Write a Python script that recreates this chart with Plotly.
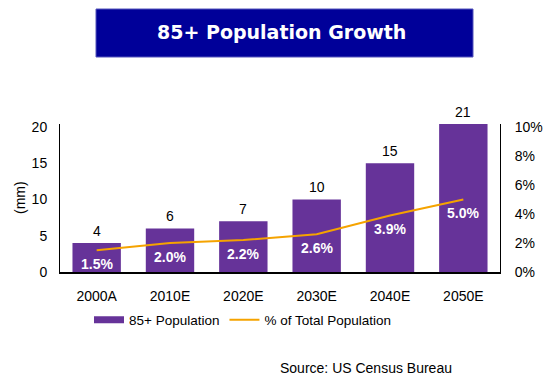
import plotly.graph_objects as go

categories = ["2000A", "2010E", "2020E", "2030E", "2040E", "2050E"]
pop_85_plus = [4, 6, 7, 10, 15, 21]
pct_of_total = [0.015, 0.020, 0.022, 0.026, 0.039, 0.050]
left_ticks = [0, 5, 10, 15, 20]
right_ticks = [0, 0.02, 0.04, 0.06, 0.08, 0.10]

PURPLE = "#663399"
ORANGE = "#F5A300"
FONT = "Liberation Sans, Arial, sans-serif"
YMAX = 20.4
Y2MAX = 0.102

fig = go.Figure()
fig.add_trace(go.Bar(x=categories, y=pop_85_plus, marker=dict(color=PURPLE, line=dict(width=0)),
                     width=0.66, showlegend=False, hoverinfo="skip"))
# legend swatch for bars
fig.add_trace(go.Scatter(x=[None], y=[None], mode="lines", name="85+ Population",
                         line=dict(color=PURPLE, width=7)))
fig.add_trace(go.Scatter(x=categories, y=pct_of_total, mode="lines", name="% of Total Population",
                         line=dict(color=ORANGE, width=2), yaxis="y2"))

annotations = []
for c, v in zip(categories, pop_85_plus):
    annotations.append(dict(x=c, y=min(v, YMAX), xref="x", yref="y", text=str(v), showarrow=False,
                            xanchor="center", yanchor="middle", yshift=12,
                            font=dict(family=FONT, size=14, color="#000")))
for c, p in zip(categories, pct_of_total):
    annotations.append(dict(x=c, y=p, xref="x", yref="y2", text=f"{p*100:.1f}%", showarrow=False,
                            xanchor="center", yanchor="middle", yshift=-14,
                            font=dict(family=FONT, size=14, color="white", weight="bold")))
annotations.append(dict(x=-0.0909, y=0.5, xref="paper", yref="paper", text="(mm)", textangle=-90,
                        xanchor="center", yanchor="middle",
                        showarrow=False, font=dict(family=FONT, size=14, color="#000")))
annotations.append(dict(x=0.5035, y=1.6216, xref="paper", yref="paper", text="85+ Population Growth",
                        xanchor="center", yanchor="middle",
                        showarrow=False, font=dict(family="DejaVu Sans", size=19, color="white", weight="bold")))
annotations.append(dict(x=(454 - 60) / 440, y=(272 - 368) / 148, xref="paper", yref="paper",
                        xanchor="right", yanchor="middle", text="Source: US Census Bureau",
                        showarrow=False, font=dict(family=FONT, size=14, color="#000")))

fig.update_layout(
    width=547, height=380,
    margin=dict(l=60, r=47, t=124, b=108, autoexpand=False),
    paper_bgcolor="white", plot_bgcolor="white",
    font=dict(family=FONT, size=14, color="#000"),
    bargap=0.34,
    xaxis=dict(showline=True, linecolor="#000", linewidth=1.5, ticks="", showgrid=False,
               ticklabelstandoff=10, tickfont=dict(size=14)),
    yaxis=dict(range=[0, YMAX], tickvals=left_ticks, showline=True, linecolor="#000", linewidth=1,
               showgrid=False, zeroline=False, ticks="", ticklabelstandoff=9, tickfont=dict(size=14)),
    yaxis2=dict(range=[0, Y2MAX], tickvals=right_ticks, tickformat=".0%", overlaying="y", side="right",
                showline=True, linecolor="#000", linewidth=1, showgrid=False, zeroline=False, ticks="",
                ticklabelstandoff=11, tickfont=dict(size=14)),
    legend=dict(orientation="h", x=(89 - 60) / 440, xanchor="left", y=(272 - 320) / 148, yanchor="middle",
                font=dict(family=FONT, size=13.5), bgcolor="rgba(0,0,0,0)", itemwidth=30,
                traceorder="normal"),
    shapes=[dict(type="rect", xref="paper", yref="paper", x0=36 / 440, x1=413 / 440,
                 y0=(272 - 57) / 148, y1=(272 - 9) / 148, fillcolor="#000099",
                 line=dict(color="#5555bb", width=1), layer="above")],
    annotations=annotations,
)

fig.write_html("out.html", config={"displayModeBar": False},
               post_script="document.body.style.margin='0';document.body.style.padding='0';")
